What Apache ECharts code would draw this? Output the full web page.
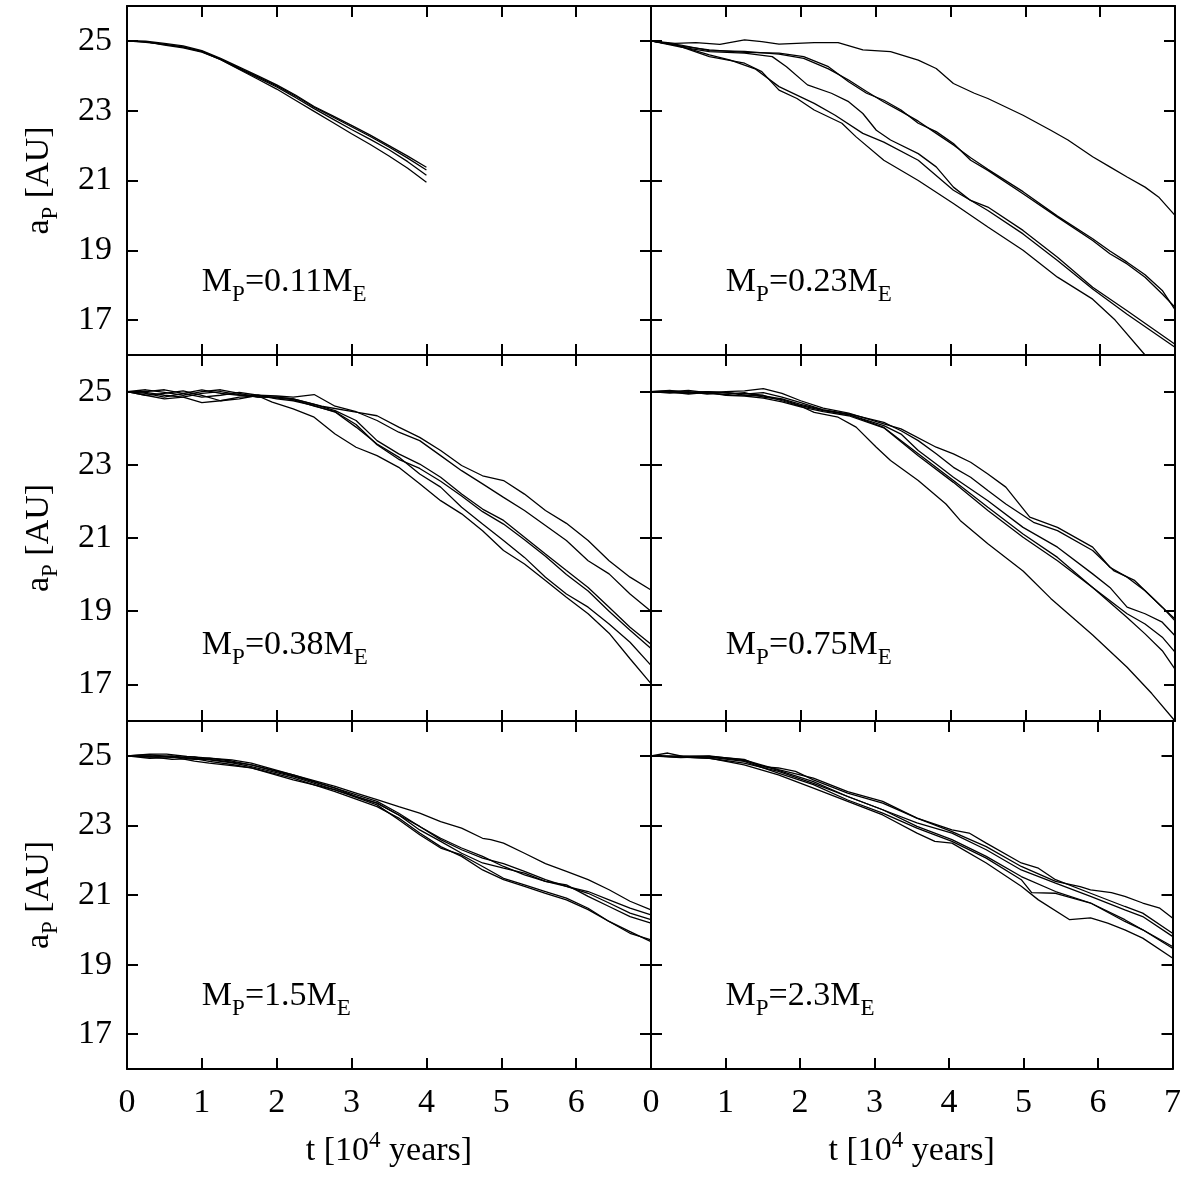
<!DOCTYPE html>
<html><head><meta charset="utf-8">
<script src="https://cdn.jsdelivr.net/npm/echarts@6/dist/echarts.min.js"></script>
<style>html,body{margin:0;padding:0;background:#fff}#c{width:1184px;height:1184px}</style>
</head><body><div id="c"></div>
<script>
// ---------------- data (t in 10^4 years, a_P in AU) ----------------
const xTicks = [0,1,2,3,4,5,6,7];
const yTicks = [17,19,21,23,25];
const massLabels = ['0.11','0.23','0.38','0.75','1.5','2.3'];

// Mp = 0.11 ME
const p1_a = [[0,25],[0.25,24.99],[0.5,24.93],[0.75,24.86],[1,24.72],[1.25,24.5],[1.5,24.25],[1.75,24.0],[2,23.74],[2.25,23.45],[2.5,23.12],[2.75,22.85],[3,22.58],[3.25,22.3],[3.5,22.0],[3.75,21.7],[4,21.38]];
const p1_b = [[0,25],[0.25,24.96],[0.5,24.9],[0.75,24.83],[1,24.7],[1.25,24.48],[1.5,24.22],[1.75,23.97],[2,23.71],[2.25,23.42],[2.5,23.1],[2.75,22.82],[3,22.54],[3.25,22.26],[3.5,21.96],[3.75,21.64],[4,21.3]];
const p1_c = [[0,25],[0.25,24.98],[0.5,24.88],[0.75,24.8],[1,24.68],[1.25,24.47],[1.5,24.2],[1.75,23.94],[2,23.68],[2.25,23.38],[2.5,23.06],[2.75,22.76],[3,22.46],[3.25,22.18],[3.5,21.88],[3.75,21.54],[4,21.15]];
const p1_d = [[0,25],[0.25,24.97],[0.5,24.9],[0.75,24.82],[1,24.69],[1.25,24.46],[1.5,24.18],[1.75,23.9],[2,23.62],[2.25,23.3],[2.5,22.98],[2.75,22.66],[3,22.34],[3.25,22.03],[3.5,21.7],[3.75,21.35],[4,20.95]];

// Mp = 0.23 ME
const p2_a = [[0,25],[0.32,24.93],[0.6,24.95],[0.92,24.9],[1.25,25.03],[1.48,24.98],[1.71,24.91],[2.18,24.95],[2.5,24.95],[2.83,24.74],[3.2,24.69],[3.57,24.45],[3.81,24.21],[4.04,23.78],[4.32,23.5],[4.5,23.35],[4.97,22.87],[5.34,22.44],[5.57,22.16],[5.9,21.68],[6.13,21.39],[6.36,21.1],[6.6,20.81],[6.78,20.53],[7,20.0]];
const p2_b = [[0,25],[0.4,24.85],[0.78,24.74],[1.25,24.67],[1.71,24.65],[2.04,24.55],[2.37,24.26],[2.64,23.83],[2.88,23.5],[3.11,23.3],[3.34,23.02],[3.57,22.64],[3.81,22.4],[4.04,22.06],[4.27,21.58],[4.5,21.29],[4.97,20.62],[5.43,19.95],[5.9,19.28],[6.13,18.9],[6.36,18.61],[6.6,18.23],[6.83,17.75],[7,17.37]];
const p2_c = [[0,25],[0.4,24.88],[0.78,24.72],[1.25,24.7],[1.71,24.62],[2.04,24.5],[2.37,24.2],[2.64,23.88],[2.88,23.55],[3.11,23.25],[3.34,22.98],[3.57,22.7],[3.81,22.35],[4.04,22.02],[4.27,21.65],[4.5,21.32],[4.97,20.68],[5.43,19.98],[5.9,19.33],[6.13,18.98],[6.36,18.66],[6.6,18.3],[6.83,17.85],[7,17.3]];
const p2_d = [[0,25],[0.4,24.82],[0.78,24.69],[1.25,24.65],[1.62,24.55],[1.81,24.26],[2.09,23.74],[2.41,23.5],[2.64,23.26],[2.83,22.92],[3.01,22.44],[3.2,22.16],[3.57,21.77],[3.81,21.39],[4.04,20.81],[4.27,20.43],[4.5,20.24],[4.97,19.57],[5.43,18.8],[5.9,17.94],[6.36,17.27],[7,16.31]];
const p2_e = [[0,25],[0.32,24.89],[0.78,24.6],[1.06,24.45],[1.39,24.2],[1.71,23.69],[2.18,23.21],[2.46,22.87],[2.83,22.35],[3.11,22.1],[3.57,21.58],[4.04,20.72],[4.5,20.14],[4.97,19.47],[5.43,18.71],[5.9,17.89],[6.36,17.17],[7,16.22]];
const p2_f = [[0,25],[0.32,24.89],[0.78,24.55],[1.25,24.36],[1.48,24.12],[1.71,23.59],[1.95,23.35],[2.18,23.02],[2.55,22.64],[2.74,22.25],[3.11,21.58],[3.57,21.0],[4.04,20.34],[4.5,19.67],[4.97,19.0],[5.43,18.23],[5.9,17.6],[6.2,17.0],[6.6,16.0],[6.7,15.8]];

// Mp = 0.38 ME
const p3_a = [[0,25],[0.25,25.05],[0.5,24.98],[0.75,24.9],[1,25.0],[1.25,25.05],[1.5,24.95],[1.75,24.85],[2,24.85],[2.22,24.8],[2.6,24.6],[3.06,24.44],[3.34,24.34],[3.63,24.03],[3.91,23.75],[4.19,23.39],[4.47,22.98],[4.75,22.7],[5.03,22.57],[5.31,22.2],[5.59,21.75],[5.87,21.4],[6.16,20.93],[6.44,20.38],[6.72,19.93],[7,19.58]];
const p3_b = [[0,25],[0.25,24.95],[0.5,24.85],[0.75,24.95],[1,25.05],[1.25,24.95],[1.5,24.9],[1.75,24.9],[2,24.88],[2.22,24.85],[2.5,24.92],[2.78,24.6],[3.06,24.45],[3.34,24.21],[3.63,23.89],[3.91,23.66],[4.19,23.25],[4.47,22.84],[4.75,22.48],[5.03,22.11],[5.31,21.75],[5.59,21.34],[5.87,20.93],[6.16,20.38],[6.44,20.02],[6.72,19.47],[7,19.0]];
const p3_c = [[0,25],[0.25,24.9],[0.5,24.8],[0.75,24.85],[1,24.95],[1.25,25.0],[1.5,24.92],[1.75,24.85],[2,24.85],[2.22,24.8],[2.5,24.65],[2.78,24.48],[3.06,24.21],[3.34,23.66],[3.63,23.3],[3.91,23.02],[4.19,22.66],[4.47,22.2],[4.75,21.79],[5.03,21.48],[5.31,21.02],[5.59,20.56],[5.87,20.11],[6.16,19.65],[6.44,19.11],[6.72,18.56],[7,18.1]];
const p3_d = [[0,25],[0.25,25.0],[0.5,25.05],[0.75,24.95],[1,24.85],[1.25,24.9],[1.5,24.98],[1.75,24.9],[2,24.82],[2.22,24.78],[2.5,24.6],[2.78,24.45],[3.06,24.1],[3.34,23.55],[3.63,23.15],[3.91,22.9],[4.19,22.55],[4.47,22.15],[4.75,21.72],[5.03,21.38],[5.31,20.95],[5.59,20.5],[5.87,20.0],[6.16,19.55],[6.44,19.0],[6.72,18.48],[7,17.98]];
const p3_e = [[0,25],[0.25,24.9],[0.5,24.95],[0.75,25.02],[1,24.9],[1.25,24.75],[1.5,24.8],[1.75,24.9],[2,24.8],[2.22,24.75],[2.5,24.62],[2.78,24.44],[3.06,24.03],[3.34,23.57],[3.63,23.21],[3.91,22.75],[4.19,22.39],[4.47,21.84],[4.75,21.38],[5.03,20.93],[5.31,20.47],[5.59,19.93],[5.87,19.47],[6.16,19.11],[6.44,18.65],[6.72,18.15],[7,17.52]];
const p3_f = [[0,25],[0.25,24.98],[0.5,24.9],[0.75,24.85],[1,24.7],[1.25,24.75],[1.5,24.85],[1.75,24.88],[1.94,24.71],[2.22,24.53],[2.5,24.3],[2.78,23.84],[3.06,23.48],[3.34,23.25],[3.63,22.93],[3.91,22.48],[4.19,22.02],[4.47,21.66],[4.75,21.2],[5.03,20.66],[5.31,20.29],[5.59,19.84],[5.87,19.38],[6.16,18.93],[6.44,18.4],[6.72,17.7],[7,17.02]];

// Mp = 0.75 ME
const p4_a = [[0,25],[0.25,25.02],[0.5,24.98],[0.75,25.0],[1,24.96],[1.25,24.95],[1.5,24.9],[1.75,24.75],[2,24.6],[2.18,24.43],[2.5,24.3],[2.74,24.03],[3.01,23.48],[3.2,23.12],[3.57,22.57],[3.94,21.93],[4.13,21.48],[4.5,20.84],[4.97,20.1],[5.34,19.35],[5.62,18.85],[5.9,18.35],[6.36,17.47],[6.69,16.75],[7,16.0]];
const p4_b = [[0,25],[0.25,25.0],[0.5,25.03],[0.75,24.97],[1,25.0],[1.25,25.02],[1.5,25.08],[1.75,24.95],[2,24.75],[2.3,24.55],[2.64,24.41],[3.11,24.12],[3.34,23.98],[3.81,23.48],[4.04,23.3],[4.27,23.07],[4.5,22.75],[4.74,22.39],[5.06,21.57],[5.43,21.29],[5.9,20.75],[6.13,20.2],[6.36,19.93],[6.6,19.56],[6.83,19.11],[7,18.79]];
const p4_c = [[0,25],[0.25,24.98],[0.5,24.95],[0.75,25.0],[1,24.97],[1.25,24.93],[1.5,24.97],[1.75,24.85],[2,24.7],[2.3,24.5],[2.64,24.39],[3.11,24.16],[3.34,23.93],[3.57,23.66],[3.81,23.3],[4.04,22.93],[4.27,22.66],[4.5,22.3],[4.74,21.93],[5.11,21.43],[5.43,21.2],[5.9,20.66],[6.18,20.11],[6.46,19.84],[6.83,19.11],[7,18.74]];
const p4_d = [[0,25],[0.25,24.96],[0.5,25.0],[0.75,24.93],[1,24.98],[1.25,24.9],[1.5,24.88],[1.75,24.8],[2,24.65],[2.3,24.5],[2.64,24.37],[3.11,24.07],[3.34,23.84],[3.57,23.39],[3.81,23.02],[4.04,22.66],[4.5,22.02],[4.97,21.29],[5.43,20.75],[5.9,20.02],[6.13,19.65],[6.36,19.11],[6.6,18.93],[6.83,18.7],[7,18.33]];
const p4_e = [[0,25],[0.25,25.03],[0.5,24.97],[0.75,24.95],[1,24.92],[1.25,24.97],[1.5,24.85],[1.75,24.78],[2,24.62],[2.3,24.48],[2.64,24.37],[3.11,24.02],[3.57,23.3],[4.04,22.57],[4.5,21.84],[4.97,21.11],[5.43,20.47],[5.9,19.65],[6.36,18.93],[6.6,18.65],[6.83,18.29],[7,17.88]];
const p4_f = [[0,25],[0.25,24.99],[0.5,24.93],[0.75,24.98],[1,24.9],[1.25,24.88],[1.5,24.82],[1.75,24.72],[2,24.58],[2.3,24.45],[2.64,24.34],[3.11,24.01],[3.57,23.25],[4.04,22.52],[4.5,21.75],[4.97,21.02],[5.43,20.38],[5.9,19.65],[6.36,18.83],[6.6,18.38],[6.83,17.92],[7,17.42]];

// Mp = 1.5 ME
const p5_a = [[0,25],[0.3,25.05],[0.53,25.05],[0.8,24.98],[1.1,24.93],[1.4,24.88],[1.66,24.79],[2.22,24.45],[2.78,24.12],[3.06,23.93],[3.34,23.74],[3.63,23.54],[3.91,23.35],[4.19,23.11],[4.47,22.92],[4.75,22.63],[4.86,22.59],[5.03,22.49],[5.31,22.2],[5.59,21.9],[5.87,21.68],[6.16,21.44],[6.44,21.15],[6.72,20.82],[7,20.57]];
const p5_b = [[0,25],[0.3,24.96],[0.6,25.0],[0.9,24.92],[1.1,24.93],[1.4,24.85],[1.66,24.74],[2.22,24.45],[2.78,24.07],[3.06,23.83],[3.34,23.64],[3.63,23.3],[3.91,22.97],[4.19,22.59],[4.47,22.3],[4.75,22.06],[5.03,21.9],[5.31,21.68],[5.59,21.44],[5.87,21.25],[6.16,21.05],[6.44,20.77],[6.72,20.48],[7,20.29]];
const p5_c = [[0,25],[0.3,24.93],[0.6,24.95],[0.9,24.97],[1.1,24.88],[1.4,24.8],[1.66,24.69],[2.22,24.4],[2.78,24.02],[3.34,23.64],[3.63,23.3],[3.91,22.87],[4.19,22.54],[4.47,22.2],[4.75,21.92],[5.03,21.77],[5.31,21.63],[5.59,21.39],[5.87,21.29],[6.16,20.96],[6.44,20.67],[6.72,20.38],[7,20.19]];
const p5_d = [[0,25],[0.3,24.98],[0.6,24.9],[0.9,24.92],[1.1,24.84],[1.4,24.75],[1.66,24.65],[2.22,24.36],[2.78,23.97],[3.34,23.54],[3.63,23.21],[3.91,22.78],[4.19,22.39],[4.47,22.11],[4.75,21.72],[5.03,21.44],[5.31,21.25],[5.59,21.05],[5.87,20.86],[6.16,20.58],[6.44,20.24],[6.72,19.9],[7,19.71]];
const p5_e = [[0,25],[0.3,25.03],[0.6,24.97],[0.9,24.85],[1.1,24.79],[1.4,24.72],[1.66,24.65],[2.22,24.31],[2.78,24.02],[3.34,23.59],[3.63,23.16],[3.91,22.73],[4.19,22.35],[4.47,22.15],[4.75,21.82],[5.03,21.48],[5.31,21.29],[5.59,21.1],[5.87,20.91],[6.16,20.62],[6.44,20.24],[6.72,19.95],[7,19.66]];
const p5_f = [[0,25],[0.3,25.0],[0.6,24.98],[0.9,24.9],[1.1,24.9],[1.4,24.82],[1.66,24.74],[2.22,24.42],[2.78,24.07],[3.34,23.69],[3.63,23.35],[3.91,22.97],[4.19,22.63],[4.47,22.35],[4.75,22.11],[5.03,21.82],[5.31,21.58],[5.59,21.39],[5.87,21.25],[6.16,21.1],[6.44,20.86],[6.72,20.62],[7,20.43]];

// Mp = 2.3 ME
const p6_a = [[0,25],[0.225,25.08],[0.43,24.98],[0.78,25.0],[1.25,24.88],[1.48,24.74],[1.71,24.6],[2.18,24.36],[2.64,23.97],[3.11,23.69],[3.57,23.21],[4.04,22.82],[4.5,22.39],[4.97,21.82],[5.43,21.39],[5.76,21.24],[5.9,21.15],[6.18,21.07],[6.36,20.96],[6.6,20.77],[6.83,20.62],[7,20.34]];
const p6_b = [[0,25],[0.4,24.95],[0.78,24.98],[1.25,24.9],[1.48,24.69],[1.71,24.65],[1.94,24.55],[2.18,24.31],[2.64,23.93],[3.11,23.64],[3.57,23.21],[4.04,22.87],[4.27,22.78],[4.5,22.49],[4.97,21.92],[5.2,21.77],[5.43,21.44],[5.9,21.05],[6.36,20.67],[6.6,20.48],[7,19.9]];
const p6_c = [[0,25],[0.4,24.97],[0.78,24.93],[1.25,24.79],[1.71,24.55],[2.18,24.21],[2.64,23.83],[3.11,23.45],[3.57,23.07],[4.04,22.78],[4.5,22.3],[4.97,21.72],[5.43,21.34],[5.9,20.96],[6.36,20.57],[6.6,20.38],[7,19.81]];
const p6_d = [[0,25],[0.4,24.98],[0.78,24.96],[1.25,24.84],[1.71,24.5],[2.18,24.17],[2.64,23.73],[3.11,23.35],[3.57,22.92],[4.04,22.54],[4.5,22.06],[4.97,21.44],[5.11,21.07],[5.43,21.05],[5.9,20.77],[6.36,20.29],[6.6,20.0],[7,19.52]];
const p6_e = [[0,25],[0.4,24.96],[0.78,24.93],[1.25,24.74],[1.71,24.45],[2.18,24.07],[2.64,23.69],[3.11,23.3],[3.57,22.78],[3.81,22.54],[4.04,22.49],[4.5,21.92],[4.97,21.25],[5.2,20.86],[5.62,20.29],[5.9,20.34],[6.13,20.19],[6.36,20.0],[6.6,19.76],[7,19.19]];
const p6_f = [[0,25],[0.4,24.99],[0.78,24.98],[1.25,24.86],[1.71,24.58],[2.18,24.26],[2.64,23.83],[3.11,23.45],[3.57,22.97],[4.04,22.59],[4.5,22.11],[4.97,21.53],[5.43,21.1],[5.9,20.77],[6.36,20.24],[6.6,20.0],[7,19.47]];

const panels = [
  [p1_a,p1_b,p1_c,p1_d],
  [p2_a,p2_b,p2_c,p2_d,p2_e,p2_f],
  [p3_a,p3_b,p3_c,p3_d,p3_e,p3_f],
  [p4_a,p4_b,p4_c,p4_d,p4_e,p4_f],
  [p5_a,p5_b,p5_c,p5_d,p5_e,p5_f],
  [p6_a,p6_b,p6_c,p6_d,p6_e,p6_f]
];
const labelPos = [1.0, 17.8]; // annotation anchor (t, a_P)

// ---------------- layout / style ----------------
const FONT = 'Liberation Serif';
const FS = 34;
const boxes = [
  {left:127, top:6, width:524, height:349},
  {left:651, top:6, width:524, height:349},
  {left:127, top:355, width:524, height:366},
  {left:651, top:355, width:524, height:366},
  {left:127, top:721, width:524, height:348},
  {left:651, top:721, width:524, height:348}
];
const lineS = {color:'#000', width:2};
const tickS = {show:true, inside:true, length:11, lineStyle:{color:'#000', width:2}};

const chart = echarts.init(document.getElementById('c'), null, {renderer:'canvas'});
const grid = [], xAxis = [], yAxis = [], series = [];
boxes.forEach((b, g) => {
  grid.push(Object.assign({containLabel:false}, b));
  const bottomRow = g >= 4, leftCol = g % 2 === 0;
  xAxis.push({
    type:'value', gridIndex:g, min:0, max:7, interval:1, position:'bottom',
    axisLine:{show:true, onZero:false, lineStyle:lineS},
    axisTick:tickS, splitLine:{show:false},
    axisLabel:{show:bottomRow, margin:17, color:'#000', fontFamily:FONT, fontSize:FS,
      showMaxLabel: !leftCol, formatter: v => (leftCol && v === 7) ? '' : String(v)},
    name: bottomRow ? 't [10{sup|4} years]' : '',
    nameLocation:'middle', nameGap:60,
    nameTextStyle:{color:'#000', fontFamily:FONT, fontSize:FS, lineHeight:44,
      rich:{sup:{fontFamily:FONT, fontSize:23, lineHeight:12, verticalAlign:'top', color:'#000'}}}
  });
  xAxis.push({
    type:'value', gridIndex:g, min:0, max:7, interval:1, position:'top',
    axisLine:{show:true, onZero:false, lineStyle:lineS},
    axisTick:tickS, splitLine:{show:false}, axisLabel:{show:false}
  });
  yAxis.push({
    type:'value', gridIndex:g, min:16, max:26, position:'left',
    axisLine:{show:true, onZero:false, lineStyle:lineS},
    axisTick:Object.assign({customValues:yTicks}, tickS), splitLine:{show:false},
    axisLabel:{show:leftCol, customValues:yTicks, margin:15, color:'#000', fontFamily:FONT, fontSize:FS},
    name: leftCol ? 'a{sub|P} [AU]' : '',
    nameLocation:'middle', nameGap:105,
    nameTextStyle:{color:'#000', fontFamily:FONT, fontSize:FS, lineHeight:FS, verticalAlign:'top',
      rich:{sub:{fontFamily:FONT, fontSize:23, lineHeight:23, verticalAlign:'top', padding:[17,0,0,0], color:'#000'}}}
  });
  yAxis.push({
    type:'value', gridIndex:g, min:16, max:26, position:'right',
    axisLine:{show:true, onZero:false, lineStyle:lineS},
    axisTick:Object.assign({customValues:yTicks}, tickS), splitLine:{show:false}, axisLabel:{show:false}
  });
  panels[g].forEach((d) => {
    series.push({
      type:'line', xAxisIndex:2*g, yAxisIndex:2*g, data:d,
      showSymbol:false, symbol:'none', clip:true, silent:true,
      lineStyle:{color:'#000', width:1.3}, z:3
    });
  });
});

chart.setOption({
  animation:false, backgroundColor:'#fff',
  grid, xAxis, yAxis, series
});

// annotations positioned through the axes' own scales
const graphics = boxes.map((b, g) => {
  const p = chart.convertToPixel({gridIndex:g}, labelPos);
  return {
    type:'text', x:p[0], y:p[1] - 27, z:10,
    style:{
      text:'{m|M}{s|P}{m|=' + massLabels[g] + 'M}{s|E}',
      verticalAlign:'top', align:'left',
      rich:{
        m:{fontFamily:FONT, fontSize:FS, lineHeight:FS, verticalAlign:'top', fill:'#000'},
        s:{fontFamily:FONT, fontSize:23, lineHeight:23, verticalAlign:'top', padding:[18,0,0,0], fill:'#000'}
      }
    }
  };
});
chart.setOption({graphic: graphics});
</script>
</body></html>
